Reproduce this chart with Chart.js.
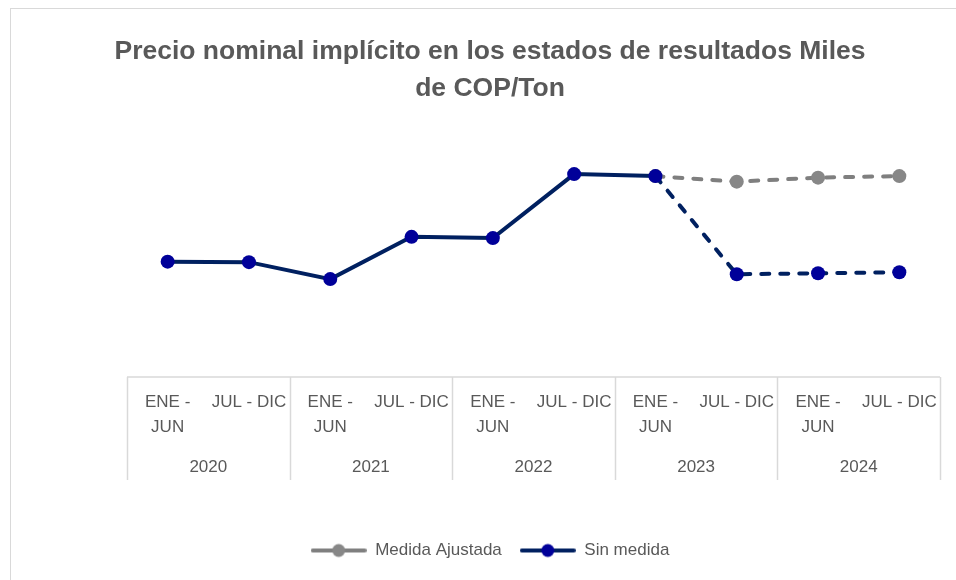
<!DOCTYPE html>
<html>
<head>
<meta charset="utf-8">
<script src="https://cdn.jsdelivr.net/npm/chart.js@4.4.1/dist/chart.umd.min.js"></script>
<style>
  html, body { margin: 0; padding: 0; background: #fff; }
  #wrap { position: relative; width: 956px; height: 580px; overflow: hidden; }
  #frame { position: absolute; left: 10px; top: 8px; width: 960px; height: 600px; border: 1px solid #d9d9d9; box-sizing: border-box; }
  #chart { position: absolute; left: 0; top: 0; }
</style>
</head>
<body>
<div id="wrap">
  <div id="frame"></div>
  <canvas id="chart" width="956" height="580"></canvas>
</div>
<script>
// datos (escala relativa, el eje Y no tiene rótulos)
const periodos = [['ENE -', 'JUN'], 'JUL - DIC', ['ENE -', 'JUN'], 'JUL - DIC', ['ENE -', 'JUN'], 'JUL - DIC', ['ENE -', 'JUN'], 'JUL - DIC', ['ENE -', 'JUN'], 'JUL - DIC'];
const anios = ['2020', '2021', '2022', '2023', '2024'];
const sinMedida = [456, 454, 387, 554, 549, 802, 794, 406, 410, 414];
const medidaAjustada = [null, null, null, null, null, null, 794, 772, 788, 794];

const GRIS_LINEA = '#7f7f7f';
const GRIS_PUNTO = '#878787';
const AZUL_LINEA = '#002060';
const AZUL_PUNTO = '#000099';
const TEXTO = '#595959';
const DASH = [8, 11];
const FUENTE = "'Liberation Sans', Arial, sans-serif";

// icono de leyenda: línea con marcador
function iconoLeyenda(lineColor, pointColor) {
    const c = document.createElement('canvas');
    c.width = 56;
    c.height = 16;
    const g = c.getContext('2d');
    g.strokeStyle = lineColor;
    g.lineWidth = 4;
    g.lineCap = 'round';
    g.beginPath();
    g.moveTo(2, 8);
    g.lineTo(54, 8);
    g.stroke();
    g.fillStyle = pointColor;
    g.beginPath();
    g.arc(28, 8, 6.5, 0, Math.PI * 2);
    g.fill();
    return c;
}
const iconos = [iconoLeyenda(GRIS_LINEA, GRIS_PUNTO), iconoLeyenda(AZUL_LINEA, AZUL_PUNTO)];

// cajas del eje de categorías (líneas grises entre años)
const cajasEje = {
    id: 'cajasEje',
    afterDraw(chart) {
        const xs = chart.scales.x;
        const ctx = chart.ctx;
        const top = xs.top;
        const bottom = xs.bottom + 35;
        const paso = xs.width / anios.length;
        ctx.save();
        ctx.strokeStyle = '#d9d9d9';
        ctx.lineWidth = 1.5;
        ctx.beginPath();
        ctx.moveTo(xs.left, top);
        ctx.lineTo(xs.right, top);
        for (let i = 0; i <= anios.length; i++) {
            const x = Math.round(xs.left + i * paso) + 0.5;
            ctx.moveTo(x, top);
            ctx.lineTo(x, bottom);
        }
        ctx.stroke();
        ctx.restore();
    }
};

new Chart(document.getElementById('chart'), {
    type: 'line',
    data: {
        labels: periodos,
        datasets: [{
            label: 'Medida Ajustada',
            data: medidaAjustada,
            order: 2,
            borderColor: GRIS_LINEA,
            backgroundColor: GRIS_PUNTO,
            pointBackgroundColor: GRIS_PUNTO,
            pointBorderColor: GRIS_PUNTO,
            borderWidth: 4,
            borderDash: DASH,
            borderCapStyle: 'round',
            pointRadius: 7,
            pointBorderWidth: 0,
            tension: 0
        }, {
            label: 'Sin medida',
            data: sinMedida,
            order: 1,
            borderColor: AZUL_LINEA,
            backgroundColor: AZUL_PUNTO,
            pointBackgroundColor: AZUL_PUNTO,
            pointBorderColor: AZUL_PUNTO,
            borderWidth: 4,
            borderCapStyle: 'round',
            pointRadius: 7,
            pointBorderWidth: 0,
            tension: 0,
            segment: {
                borderDash: ctx => ctx.p0DataIndex >= 6 ? DASH : undefined
            }
        }]
    },
    options: {
        responsive: false,
        animation: false,
        layout: { padding: { left: 40, right: 16, top: 0, bottom: 11 } },
        plugins: {
            title: {
                display: true,
                text: ['Precio nominal implícito en los estados de resultados Miles', 'de COP/Ton'],
                color: TEXTO,
                font: { family: FUENTE, size: 26.5, weight: 'bold', lineHeight: 1.396 },
                padding: { top: 33, bottom: 17 }
            },
            legend: {
                position: 'bottom',
                labels: {
                    usePointStyle: true,
                    pointStyleWidth: 56,
                    padding: 18,
                    color: TEXTO,
                    font: { family: FUENTE, size: 17 },
                    sort: (a, b) => a.datasetIndex - b.datasetIndex,
                    generateLabels: chart => {
                        const items = Chart.defaults.plugins.legend.labels.generateLabels(chart);
                        items.forEach(it => {
                            it.pointStyle = iconos[it.datasetIndex];
                            it.fontColor = TEXTO;
                        });
                        return items;
                    }
                }
            },
            tooltip: { enabled: false }
        },
        scales: {
            x: {
                offset: true,
                grid: { display: false, drawTicks: false },
                border: { display: false },
                ticks: {
                    autoSkip: false,
                    maxRotation: 0,
                    minRotation: 0,
                    padding: 13,
                    color: TEXTO,
                    font: { family: FUENTE, size: 17, lineHeight: 1.47 }
                },
                afterFit: s => { s.height = 68; }
            },
            x2: {
                type: 'category',
                labels: anios,
                position: 'bottom',
                offset: true,
                grid: { display: false, drawTicks: false },
                border: { display: false },
                ticks: {
                    autoSkip: false,
                    maxRotation: 0,
                    padding: 12,
                    color: TEXTO,
                    font: { family: FUENTE, size: 17 }
                },
                afterFit: s => { s.height = 79; }
            },
            y: {
                min: 0,
                max: 1000,
                grid: { display: false },
                border: { display: false },
                ticks: { display: false },
                afterFit: s => { s.width = 87; }
            }
        }
    },
    plugins: [cajasEje]
});
</script>
</body>
</html>
